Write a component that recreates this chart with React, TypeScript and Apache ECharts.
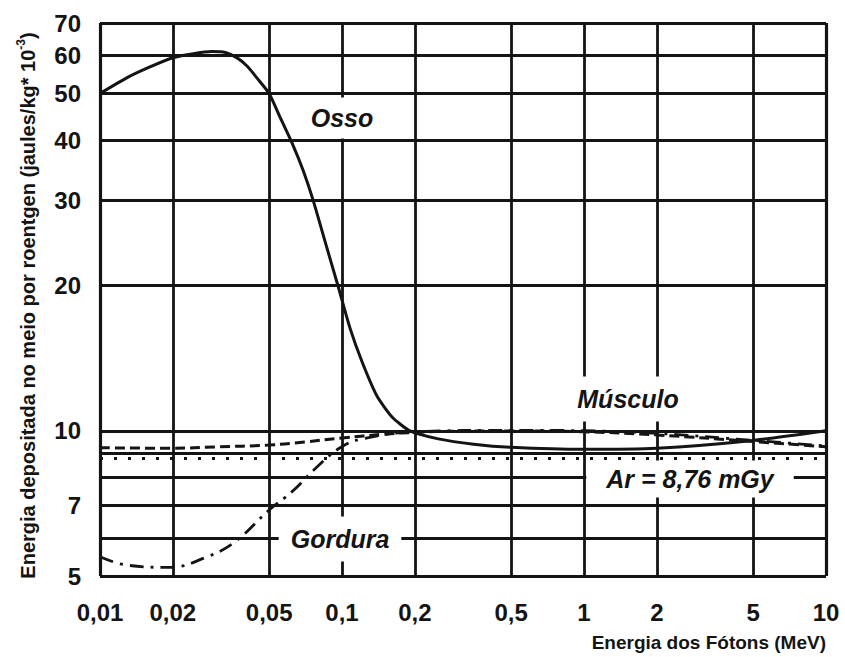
import React, { useEffect, useRef } from "react";
import * as echarts from "echarts";

const X_MIN = 0.01;
const X_MAX = 10;
const Y_MIN = 5;
const Y_MAX = 70;

const xGridValues = [0.01, 0.02, 0.05, 0.1, 0.2, 0.5, 1, 2, 5, 10];
const xTickLabels = ["0,01", "0,02", "0,05", "0,1", "0,2", "0,5", "1", "2", "5", "10"];

const yGridValues = [5, 6, 7, 8, 9, 10, 20, 30, 40, 50, 60, 70];
const yLabelValues = [5, 7, 10, 20, 30, 40, 50, 60, 70];
const yTickLabels = ["5", "7", "10", "20", "30", "40", "50", "60", "70"];

// Osso (bone) - solid
const osso: [number, number][] = [
  [0.01, 50], [0.013, 54], [0.016, 56.7], [0.02, 59.3], [0.024, 60.4], [0.029, 61.1],
  [0.033, 60.8], [0.037, 59.2], [0.0405, 57], [0.0446, 53.8], [0.05, 50], [0.0554, 44.7],
  [0.0627, 39.1], [0.069, 34.7], [0.0759, 30.1], [0.0867, 23.9], [0.0963, 19.95],
  [0.108, 16.3], [0.121, 13.9], [0.1395, 11.8], [0.161, 10.68], [0.191, 9.99],
  [0.25, 9.62], [0.35, 9.38], [0.5, 9.24], [1, 9.15], [2, 9.2], [5, 9.55], [10, 10],
];

// Músculo (muscle) - dashed
const musculo: [number, number][] = [
  [0.01, 9.22], [0.02, 9.2], [0.03, 9.26], [0.05, 9.34], [0.07, 9.48], [0.1, 9.66],
  [0.15, 9.84], [0.2, 9.92], [0.3, 9.98], [0.5, 9.99], [1, 9.95], [2, 9.8],
  [5, 9.5], [10, 9.26],
];

// Gordura (fat) - dash-dot
const gordura: [number, number][] = [
  [0.01, 5.48], [0.0128, 5.27], [0.0194, 5.21], [0.0277, 5.48], [0.0362, 5.89],
  [0.05, 6.85], [0.062, 7.47], [0.079, 8.42], [0.0975, 9.2], [0.12, 9.61],
  [0.2, 9.95], [0.5, 10.02], [1, 10.0], [2, 9.88], [5, 9.55], [10, 9.3],
];

// Ar (air) - dotted, constant
const ar: [number, number][] = [[0.01, 8.76], [10, 8.76]];

const FONT = '"Liberation Sans", Arial, sans-serif';
const INK = "#141414";

export default function App() {
  const ref = useRef<HTMLDivElement>(null);

  useEffect(() => {
    if (!ref.current) return;
    const chart = echarts.init(ref.current, undefined, { renderer: "svg" });

    const tickLabelStyle = {
      fontFamily: FONT,
      fontWeight: "bold" as const,
      fontSize: 24,
      color: INK,
    };

    const vLines = xGridValues.map((v, i) => [
      {
        coord: [v, Y_MIN],
        lineStyle: { width: v === X_MIN || v === X_MAX ? 3.2 : 2.8 },
        label: {
          show: true,
          position: "start",
          distance: 24,
          formatter: xTickLabels[i],
          ...tickLabelStyle,
        },
      },
      { coord: [v, Y_MAX] },
    ]);

    const hLines = yGridValues.map((v) => {
      const li = yLabelValues.indexOf(v);
      return [
        {
          coord: [X_MIN, v],
          lineStyle: { width: v === Y_MIN || v === Y_MAX ? 3.2 : 2.8 },
          label: {
            show: li >= 0,
            position: "start",
            distance: 19,
            formatter: li >= 0 ? yTickLabels[li] : "",
            ...tickLabelStyle,
          },
        },
        { coord: [X_MAX, v] },
      ];
    });

    const noteStyle = (text: string) => ({
      text,
      fontFamily: FONT,
      fontWeight: "bold",
      fontStyle: "italic",
      fontSize: 25,
      fill: INK,
      align: "center",
      verticalAlign: "middle",
      backgroundColor: "#ffffff",
    });

    const nameFont = {
      fontFamily: FONT,
      fontWeight: "bold" as const,
      color: INK,
    };

    chart.setOption({
      animation: false,
      backgroundColor: "#ffffff",
      grid: { left: 100, right: 19, top: 23, bottom: 81, containLabel: false },
      xAxis: {
        type: "log",
        logBase: 10,
        min: X_MIN,
        max: X_MAX,
        axisLine: { show: false },
        axisTick: { show: false },
        axisLabel: { show: false },
        splitLine: { show: false },
        minorSplitLine: { show: false },
        name: "Energia dos Fótons (MeV)",
        nameLocation: "end",
        nameGap: 0,
        nameTextStyle: {
          ...nameFont,
          fontSize: 19,
          align: "right",
          verticalAlign: "top",
          padding: [57, 0, 0, 0],
        },
      },
      yAxis: {
        type: "log",
        logBase: 10,
        min: Y_MIN,
        max: Y_MAX,
        axisLine: { show: false },
        axisTick: { show: false },
        axisLabel: { show: false },
        splitLine: { show: false },
        minorSplitLine: { show: false },
        name: "{b|Energia depositada no meio por roentgen (jaules/kg* 10}{sup|-3}{b|)}",
        nameLocation: "middle",
        nameRotate: 90,
        nameGap: 62,
        nameTextStyle: {
          ...nameFont,
          fontSize: 20,
          padding: [0, 12, 0, 0],
          rich: {
            b: { ...nameFont, fontSize: 20, lineHeight: 23, verticalAlign: "bottom" },
            sup: {
              ...nameFont,
              fontSize: 12,
              lineHeight: 23,
              verticalAlign: "top",
            },
          },
        },
      },
      series: [
        {
          type: "line",
          name: "Ar",
          data: ar,
          symbol: "none",
          clip: false,
          z: 3,
          lineStyle: { color: INK, width: 3, type: [3, 11], cap: "butt" },
          markLine: {
            silent: true,
            symbol: ["none", "none"],
            z: 1,
            animation: false,
            emphasis: { disabled: true },
            label: { show: false },
            lineStyle: { color: INK, type: "solid", width: 2.8 },
            data: [...vLines, ...hLines],
          },
        },
        {
          type: "line",
          name: "Músculo",
          data: musculo,
          symbol: "none",
          smooth: 0.4,
          z: 4,
          lineStyle: { color: INK, width: 3, type: [10, 5], cap: "butt" },
        },
        {
          type: "line",
          name: "Gordura",
          data: gordura,
          symbol: "none",
          smooth: 0.4,
          z: 4,
          lineStyle: { color: INK, width: 2.8, type: [14, 7, 3, 7], cap: "butt" },
        },
        {
          type: "line",
          name: "Osso",
          data: osso,
          symbol: "none",
          smooth: 0.2,
          z: 5,
          lineStyle: { color: INK, width: 3 },
        },
      ],
      graphic: [
        { type: "text", x: 342, y: 118, z: 100, style: { ...noteStyle("Osso"), padding: [8, 6] } },
        { type: "text", x: 628, y: 399, z: 100, style: { ...noteStyle("Músculo"), padding: [10, 10] } },
        { type: "text", x: 690, y: 479, z: 100, style: { ...noteStyle("Ar = 8,76 mGy"), padding: [6, 20] } },
        { type: "text", x: 340, y: 539, z: 100, style: { ...noteStyle("Gordura"), padding: [10, 12] } },
      ],
    });

    return () => chart.dispose();
  }, []);

  return (
    <div
      ref={ref}
      style={{ position: "fixed", left: 0, top: 0, width: 845, height: 657, background: "#fff" }}
    />
  );
}
